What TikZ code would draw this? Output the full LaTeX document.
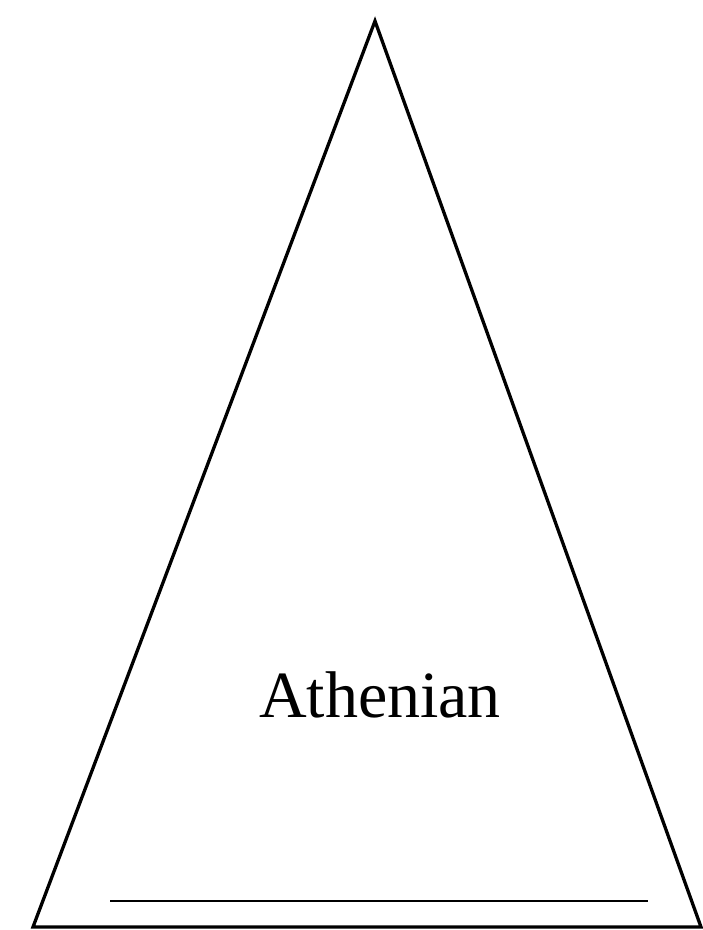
\documentclass[tikz,border=0pt]{standalone}
\usepackage{fontspec}
\setmainfont{Liberation Serif}

\begin{document}
\begin{tikzpicture}[x=1pt,y=-1pt]
  \useasboundingbox (0,0) rectangle (703,930);
  \coordinate (apex) at (375,21);
  \coordinate (baseL) at (33,927);
  \coordinate (baseR) at (701,927);
  \draw[line width=3.3pt,line join=miter] (apex) -- (baseR) -- (baseL) -- cycle;
  \coordinate (lineL) at (110,901);
  \coordinate (lineR) at (648,901);
  \draw[line width=2.2pt] (lineL) -- (lineR);
  \node[font=\fontsize{66}{70}\selectfont,anchor=base] (label) at (380,717) {Athenian};
\end{tikzpicture}
\end{document}
